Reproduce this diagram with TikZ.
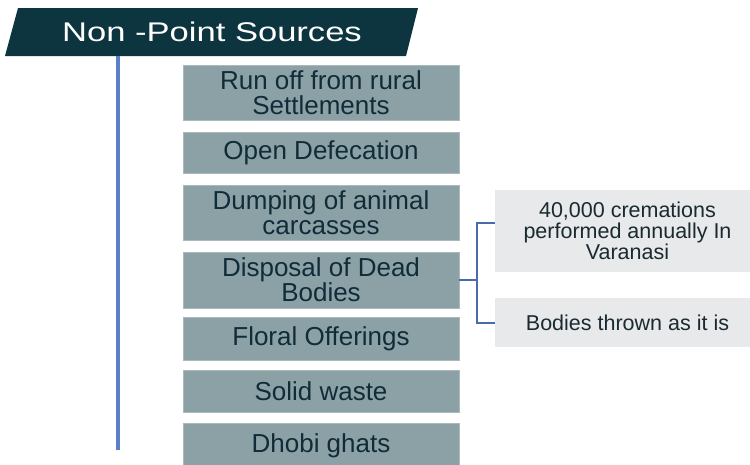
\documentclass[tikz,border=0pt]{standalone}
\usepackage{fontspec}
\setmainfont{Liberation Sans}
\definecolor{titlefill}{HTML}{0D3540}
\definecolor{boxfill}{HTML}{8CA1A6}
\definecolor{boxedge}{HTML}{A9BABD}
\definecolor{boxtext}{HTML}{0F2C38}
\definecolor{litefill}{HTML}{E7E9EA}
\definecolor{litetext}{HTML}{1A2A31}
\definecolor{vline}{HTML}{5B80C8}
\definecolor{bline}{HTML}{4A6AAE}
\begin{document}
\begin{tikzpicture}[x=1pt,y=-1pt,
  srcbox/.style={draw=boxedge,line width=0.8pt,fill=boxfill,text=boxtext,minimum width=276pt,
    inner sep=0pt,align=center,font=\fontsize{26}{25}\selectfont},
  subbox/.style={fill=litefill,text=litetext,minimum width=265pt,inner sep=0pt,align=center,
    font=\fontsize{21.5}{21}\selectfont},
  stem/.style={vline,line width=3.5pt},
  brk/.style={bline,line width=2pt}]
\useasboundingbox (0,0) rectangle (750,464);
% title
\fill[titlefill] (18,8) -- (418,8) -- (406,56) -- (5,56) -- cycle;
\node[text=white,font=\fontsize{27}{27}\selectfont] (title) at (212,32)
  {\scalebox{1.28}[1]{Non -Point Sources}};
% stem
\coordinate (vtop) at (118,56);
\coordinate (vbot) at (118,450);
\draw[stem] (vtop) -- (vbot);
% source boxes
\node[srcbox,minimum height=55pt] (b1) at (321,92.5) {Run off from rural\\Settlements};
\node[srcbox,minimum height=41pt] (b2) at (321,152.5) {Open Defecation};
\node[srcbox,minimum height=55pt] (b3) at (321,212.5) {Dumping of animal\\carcasses};
\node[srcbox,minimum height=56pt] (b4) at (321,280) {Disposal of Dead\\Bodies};
\node[srcbox,minimum height=43pt] (b5) at (321,338.5) {Floral Offerings};
\node[srcbox,minimum height=42pt] (b6) at (321,391) {Solid waste};
\node[srcbox,minimum height=46pt] (b7) at (321,446) {\raisebox{4pt}{Dhobi ghats}};
% sub boxes
\node[subbox,minimum height=82pt] (sa) at (627.5,231) {40,000 cremations\\performed annually In\\Varanasi};
\node[subbox,minimum height=49pt] (sb) at (627.5,322.5) {Bodies thrown as it is};
% bracket
\draw[brk] (b4.east) -- ++(18,0) coordinate (bj);
\draw[brk] ([yshift=8pt]sa.west) -| (bj) |- (sb.west);
\end{tikzpicture}
\end{document}
